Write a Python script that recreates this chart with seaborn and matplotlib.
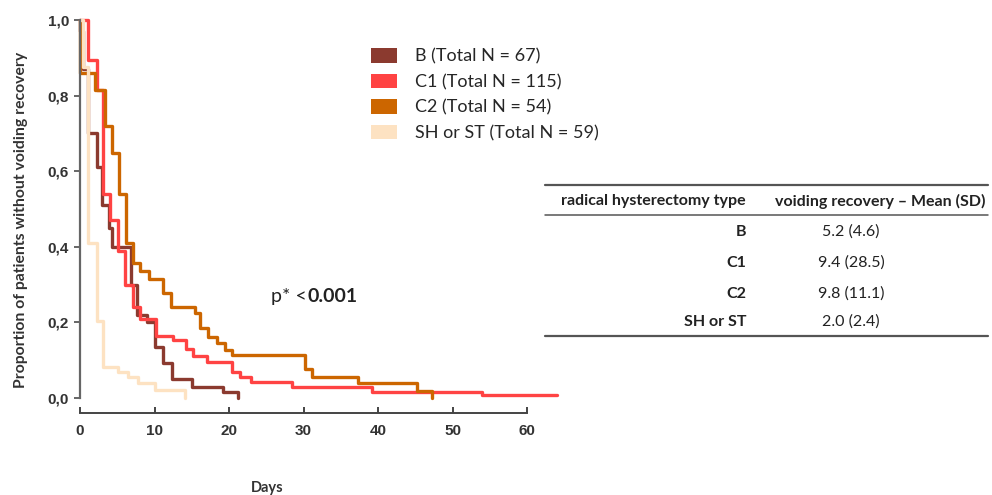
import matplotlib
matplotlib.use("Agg")
import matplotlib.pyplot as plt
from matplotlib.lines import Line2D
from matplotlib.patches import Patch
import numpy as np
import pandas as pd
import seaborn as sns

# Kaplan-Meier style step curves: days after surgery vs. proportion still without voiding recovery
groups = ["B", "C1", "C2", "SH or ST"]
totals = [67, 115, 54, 59]

b_days = [0, 0, 0.4, 1.1, 2.3, 3.0, 3.9, 4.3, 6.9, 7.7, 9.0, 10.1, 11.1, 12.3, 15.0, 19.2, 21.2]
b_surv = [1.0, 0.97, 0.87, 0.70, 0.61, 0.51, 0.45, 0.40, 0.30, 0.22, 0.20, 0.135, 0.093, 0.05,
          0.03, 0.015, 0.0]

c1_days = [0, 1.1, 2.3, 3.1, 4.0, 5.1, 6.0, 7.1, 8.0, 10.2, 12.5, 14.2, 15.2, 17.0, 20.4, 21.5,
           23.0, 28.5, 39.2, 54.0, 64.0]
c1_surv = [1.0, 0.895, 0.815, 0.54, 0.47, 0.39, 0.30, 0.24, 0.21, 0.165, 0.153, 0.13, 0.11, 0.095,
           0.07, 0.055, 0.042, 0.03, 0.017, 0.009, 0.009]

c2_days = [0, 0, 2.0, 3.4, 4.3, 5.2, 6.2, 7.1, 8.0, 9.3, 11.2, 12.2, 15.4, 16.1, 17.2, 18.4, 19.5,
           20.4, 30.2, 31.1, 37.3, 45.2, 47.2]
c2_surv = [1.0, 0.86, 0.815, 0.72, 0.648, 0.54, 0.41, 0.357, 0.336, 0.315, 0.278, 0.24, 0.224,
           0.185, 0.161, 0.145, 0.127, 0.114, 0.077, 0.056, 0.04, 0.018, 0.0]

sh_days = [0, 0.4, 1.1, 2.3, 3.1, 5.1, 6.4, 7.8, 10.0, 14.1]
sh_surv = [1.0, 0.875, 0.41, 0.205, 0.083, 0.069, 0.056, 0.04, 0.02, 0.0]

# summary table
table_types = ["B", "C1", "C2", "SH or ST"]
table_values = ["5.2 (4.6)", "9.4 (28.5)", "9.8 (11.1)", "2.0 (2.4)"]

x_ticks = [0, 10, 20, 30, 40, 50, 60]
y_ticks = [0.0, 0.2, 0.4, 0.6, 0.8, 1.0]
y_tick_labels = ["0,0", "0,2", "0,4", "0,6", "0,8", "1,0"]

colors = {"B": "#8B3A2F", "C1": "#FF4343", "C2": "#CC6600", "SH or ST": "#FDE2C2"}

curves = {"B": (b_days, b_surv), "C1": (c1_days, c1_surv),
          "C2": (c2_days, c2_surv), "SH or ST": (sh_days, sh_surv)}
frames = []
for g in groups:
    d, s = curves[g]
    frames.append(pd.DataFrame({"group": g, "day": d, "surv": s}))
df = pd.concat(frames, ignore_index=True)

sns.set_theme(style="white")
plt.rcParams["font.family"] = ["Lato", "DejaVu Sans"]

W, H = 992, 495
fig = plt.figure(figsize=(W / 100, H / 100), dpi=100)
ax = fig.add_axes([80 / W, 1 - 398 / H, (557 - 80) / W, (398 - 20) / H])

sns.lineplot(data=df, x="day", y="surv", hue="group", hue_order=groups,
             palette=colors, estimator=None, sort=False, drawstyle="steps-post",
             linewidth=2.4, legend=False, ax=ax, clip_on=False)

ax.set_xlim(0, 64)
ax.set_ylim(0, 1.0)
for side in ["top", "right"]:
    ax.spines[side].set_visible(False)
axis_col = "#666666"
ax.spines["left"].set_color(axis_col)
ax.spines["left"].set_linewidth(1.6)
ax.spines["bottom"].set_color("#444444")
ax.spines["bottom"].set_linewidth(1.4)
ax.spines["bottom"].set_position(("outward", 11))
ax.spines["bottom"].set_bounds(0, 60)

ax.set_xticks(x_ticks)
ax.set_xticklabels([str(t) for t in x_ticks])
ax.set_yticks(y_ticks)
ax.set_yticklabels(y_tick_labels)
ax.tick_params(axis="y", direction="out", length=4, width=1.4, color=axis_col,
               left=True, pad=4)
ax.tick_params(axis="x", direction="in", length=4, width=1.4, color="#444444",
               bottom=True, pad=8)
for lab in ax.get_xticklabels() + ax.get_yticklabels():
    lab.set_fontfamily(["Liberation Sans", "DejaVu Sans"])
    lab.set_fontweight("bold")
    lab.set_fontsize(11)
    lab.set_color("#333333")

ax.set_xlabel("")
ax.set_ylabel("Proportion of patients without voiding recovery", fontsize=11.3,
              fontweight="bold", color="#333333")
ax.yaxis.set_label_coords((28 - 80) / 477, (398 - 220) / 378)
fig.text(267 / W, 1 - 488 / H, "Days", ha="center", va="center", fontsize=10.5,
         fontweight="bold", color="#333333")

# p-value annotation
t1 = ax.text(0.401, 0.268, "p* <", transform=ax.transAxes, fontsize=14,
             color="#222222", va="center", ha="left")
ax.annotate("0.001", xy=(1, 0.5), xycoords=t1, xytext=(0.5, 0), textcoords="offset points",
            fontsize=14, fontweight="bold", color="#222222", va="center", ha="left")

# legend with square colour keys
handles = [Patch(facecolor=colors[g], edgecolor="none", label=f"{g} (Total N = {n})")
           for g, n in zip(groups, totals)]
fig.legend(handles=handles, loc="upper left", bbox_to_anchor=(364 / W, 1 - 41 / H),
           frameon=False, fontsize=13, handlelength=1.45, handleheight=0.85,
           handletextpad=1.0, labelspacing=0.5, borderaxespad=0)

# summary table on the right
line_kw = dict(transform=fig.transFigure, color="#555555")
fig.add_artist(Line2D([545 / W, 988 / W], [1 - 185 / H] * 2, linewidth=1.6, **line_kw))
fig.add_artist(Line2D([545 / W, 988 / W], [1 - 215 / H] * 2, linewidth=1.1, **line_kw))
fig.add_artist(Line2D([545 / W, 988 / W], [1 - 336 / H] * 2, linewidth=1.6, **line_kw))
fig.text(746 / W, 1 - 201 / H, "radical hysterectomy type", ha="right", va="center",
         fontsize=11.5, fontweight="bold", color="#222222")
fig.text(880 / W, 1 - 201 / H, "voiding recovery \u2013 Mean (SD)", ha="center", va="center",
         fontsize=11.5, fontweight="bold", color="#222222")
row_y = [232, 263, 294, 322]
for t, v, yy in zip(table_types, table_values, row_y):
    fig.text(746 / W, 1 - yy / H, t, ha="right", va="center", fontsize=11.5,
             fontweight="bold", color="#222222")
    fig.text(851 / W, 1 - yy / H, v, ha="center", va="center", fontsize=11.5,
             color="#222222")

fig.savefig("out.png", dpi=100)
